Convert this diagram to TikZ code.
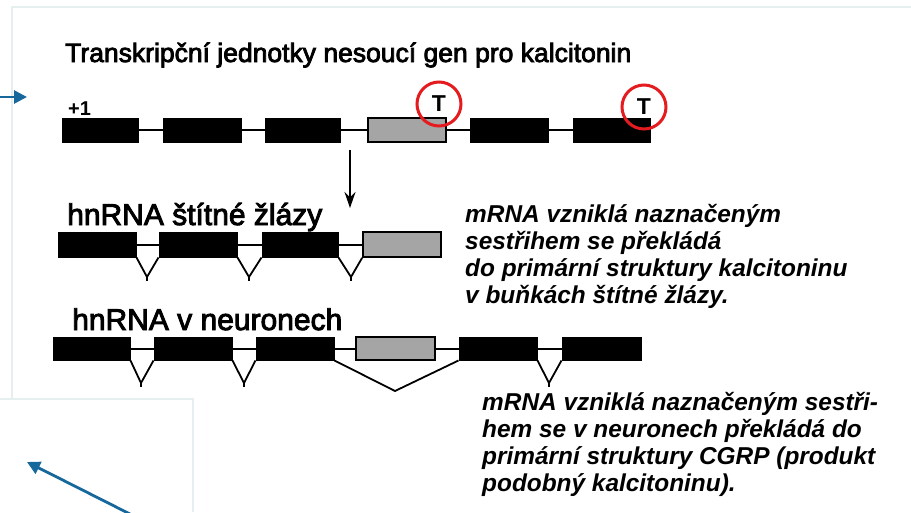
\documentclass[tikz,border=0pt]{standalone}
\usepackage{fontspec}
\setmainfont{Liberation Sans}
\newfontfamily\headfont[FakeBold=3]{Liberation Sans}
\usetikzlibrary{arrows.meta}
\definecolor{blueA}{RGB}{22,104,156}
\definecolor{redC}{RGB}{228,28,32}
\definecolor{frameC}{RGB}{230,239,239}
\definecolor{grayX}{RGB}{165,165,165}
\begin{document}
\begin{tikzpicture}[x=1pt,y=-1pt,
  exon/.style={draw=black, fill=black, line width=1pt, inner sep=0pt, minimum height=24pt},
  exong/.style={exon, fill=grayX, line width=1.8pt},
  intron/.style={draw=black, line width=2pt},
  splice/.style={draw=black, line width=1.8pt, line join=miter},
  tcircle/.style={circle, draw=redC, line width=3pt, minimum size=44pt, inner sep=0pt, font=\bfseries\fontsize{23}{23}\selectfont},
  blueline/.style={draw=blueA, line width=2.8pt, -{Triangle[length=13pt,width=13pt]}},
  framel/.style={draw=frameC, line width=1.2pt},
  labelbig/.style={anchor=base west, inner sep=0pt, font=\headfont\fontsize{30}{34}\selectfont},
  note/.style={anchor=base west, inner sep=0pt, font=\bfseries\itshape\fontsize{24.4}{27}\selectfont}
]
\useasboundingbox (0,0) rectangle (911,512);
% faint frame lines
\draw[framel] (12,398) -- (12,7) -- (911,7);
\draw[framel] (0,399) -- (193,399) -- (193,512);

% title
\node[anchor=base west, inner sep=0pt, font=\headfont\fontsize{26.5}{30}\selectfont] (title) at (65,62) {Transkripční jednotky nesoucí gen pro kalcitonin};
\node[anchor=base west, inner sep=0pt, font=\bfseries\fontsize{20}{20}\selectfont] (plus) at (68,115) {+1};

% row 1 : gene
\node[exon, minimum width=76pt] (a1) at (100,130) {};
\node[exon, minimum width=78pt] (a2) at (202,130) {};
\node[exon, minimum width=75pt] (a3) at (302.5,130) {};
\node[exong, minimum width=78pt] (a4) at (407,130) {};
\node[exon, minimum width=78pt] (a5) at (509,130) {};
\node[exon, minimum width=77pt] (a6) at (611.5,130) {};
\draw[intron] (a1.east) -- (a2.west);
\draw[intron] (a2.east) -- (a3.west);
\draw[intron] (a3.east) -- (a4.west);
\draw[intron] (a4.east) -- (a5.west);
\draw[intron] (a5.east) -- (a6.west);

\node[tcircle] (T1) at (439,104) {T};
\node[tcircle] (T2) at (644,107) {T};

% left blue arrow
\coordinate (bl0) at (0,97);
\coordinate (bl1) at (27,97);
\draw[blueline] (bl0) -- (bl1);

% processing arrow
\coordinate (pa0) at (350,150);
\coordinate (pa1) at (350,208);
\draw[line width=1.8pt, -{Stealth[length=16pt,width=11pt]}] (pa0) -- (pa1);

% row 2 : thyroid
\node[labelbig] (lab2) at (67,225) {hnRNA štítné žlázy};
\node[exon, minimum width=78pt, minimum height=25pt] (b1) at (97,244.5) {};
\node[exon, minimum width=78pt, minimum height=25pt] (b2) at (198,244.5) {};
\node[exon, minimum width=76pt, minimum height=25pt] (b3) at (300,244.5) {};
\node[exong, minimum width=78pt, minimum height=25pt] (b4) at (402,244.5) {};
\draw[intron] (b1.east) -- (b2.west);
\draw[intron] (b2.east) -- (b3.west);
\draw[intron] (b3.east) -- (b4.west);
\coordinate (v1) at (147,277);
\coordinate (v2) at (249,277);
\coordinate (v3) at (351,277);
\draw[splice] (b1.south east) -- (v1) -- (b2.south west);
\draw[splice] (b2.south east) -- (v2) -- (b3.south west);
\draw[splice] (b3.south east) -- (v3) -- (b4.south west);
\draw[splice] (v1) -- ++(0,3.5);
\draw[splice] (v2) -- ++(0,3.5);
\draw[splice] (v3) -- ++(0,3.5);

\node[note] (n1) at (465,222) {\begin{tabular}[t]{@{}l@{}}mRNA vzniklá naznačeným\\sestřihem se překládá\\do primární struktury kalcitoninu\\v buňkách štítné žlázy.\end{tabular}};

% row 3 : neurons
\node[labelbig] (lab3) at (72,330) {hnRNA v neuronech};
\node[exon, minimum width=77pt, minimum height=23pt] (c1) at (91.5,348.5) {};
\node[exon, minimum width=78pt, minimum height=23pt] (c2) at (193,348.5) {};
\node[exon, minimum width=78pt, minimum height=23pt] (c3) at (295,348.5) {};
\node[exong, minimum width=79pt, minimum height=23pt] (c4) at (395.5,348.5) {};
\node[exon, minimum width=78pt, minimum height=23pt] (c5) at (498,348.5) {};
\node[exon, minimum width=79pt, minimum height=23pt] (c6) at (601.5,348.5) {};
\draw[intron] (c1.east) -- (c2.west);
\draw[intron] (c2.east) -- (c3.west);
\draw[intron] (c3.east) -- (c4.west);
\draw[intron] (c4.east) -- (c5.west);
\draw[intron] (c5.east) -- (c6.west);
\coordinate (w1) at (141,383);
\coordinate (w2) at (244,383);
\coordinate (w3) at (395,391);
\coordinate (w4) at (549,383);
\draw[splice] (c1.south east) -- (w1) -- (c2.south west);
\draw[splice] (c2.south east) -- (w2) -- (c3.south west);
\draw[splice] (c3.south east) -- (w3) -- (c5.south west);
\draw[splice] (c5.south east) -- (w4) -- (c6.south west);
\draw[splice] (w1) -- ++(0,3.5);
\draw[splice] (w2) -- ++(0,3.5);
\draw[splice] (w4) -- ++(0,3.5);

\node[note] (n2) at (482,410) {\begin{tabular}[t]{@{}l@{}}mRNA vzniklá naznačeným sestři-\\hem se v neuronech překládá do\\primární struktury CGRP (produkt\\podobný kalcitoninu).\end{tabular}};

% lower blue arrow
\coordinate (bt0) at (130,514);
\coordinate (bt1) at (27,462);
\draw[blueline] (bt0) -- (bt1);
\end{tikzpicture}
\end{document}
